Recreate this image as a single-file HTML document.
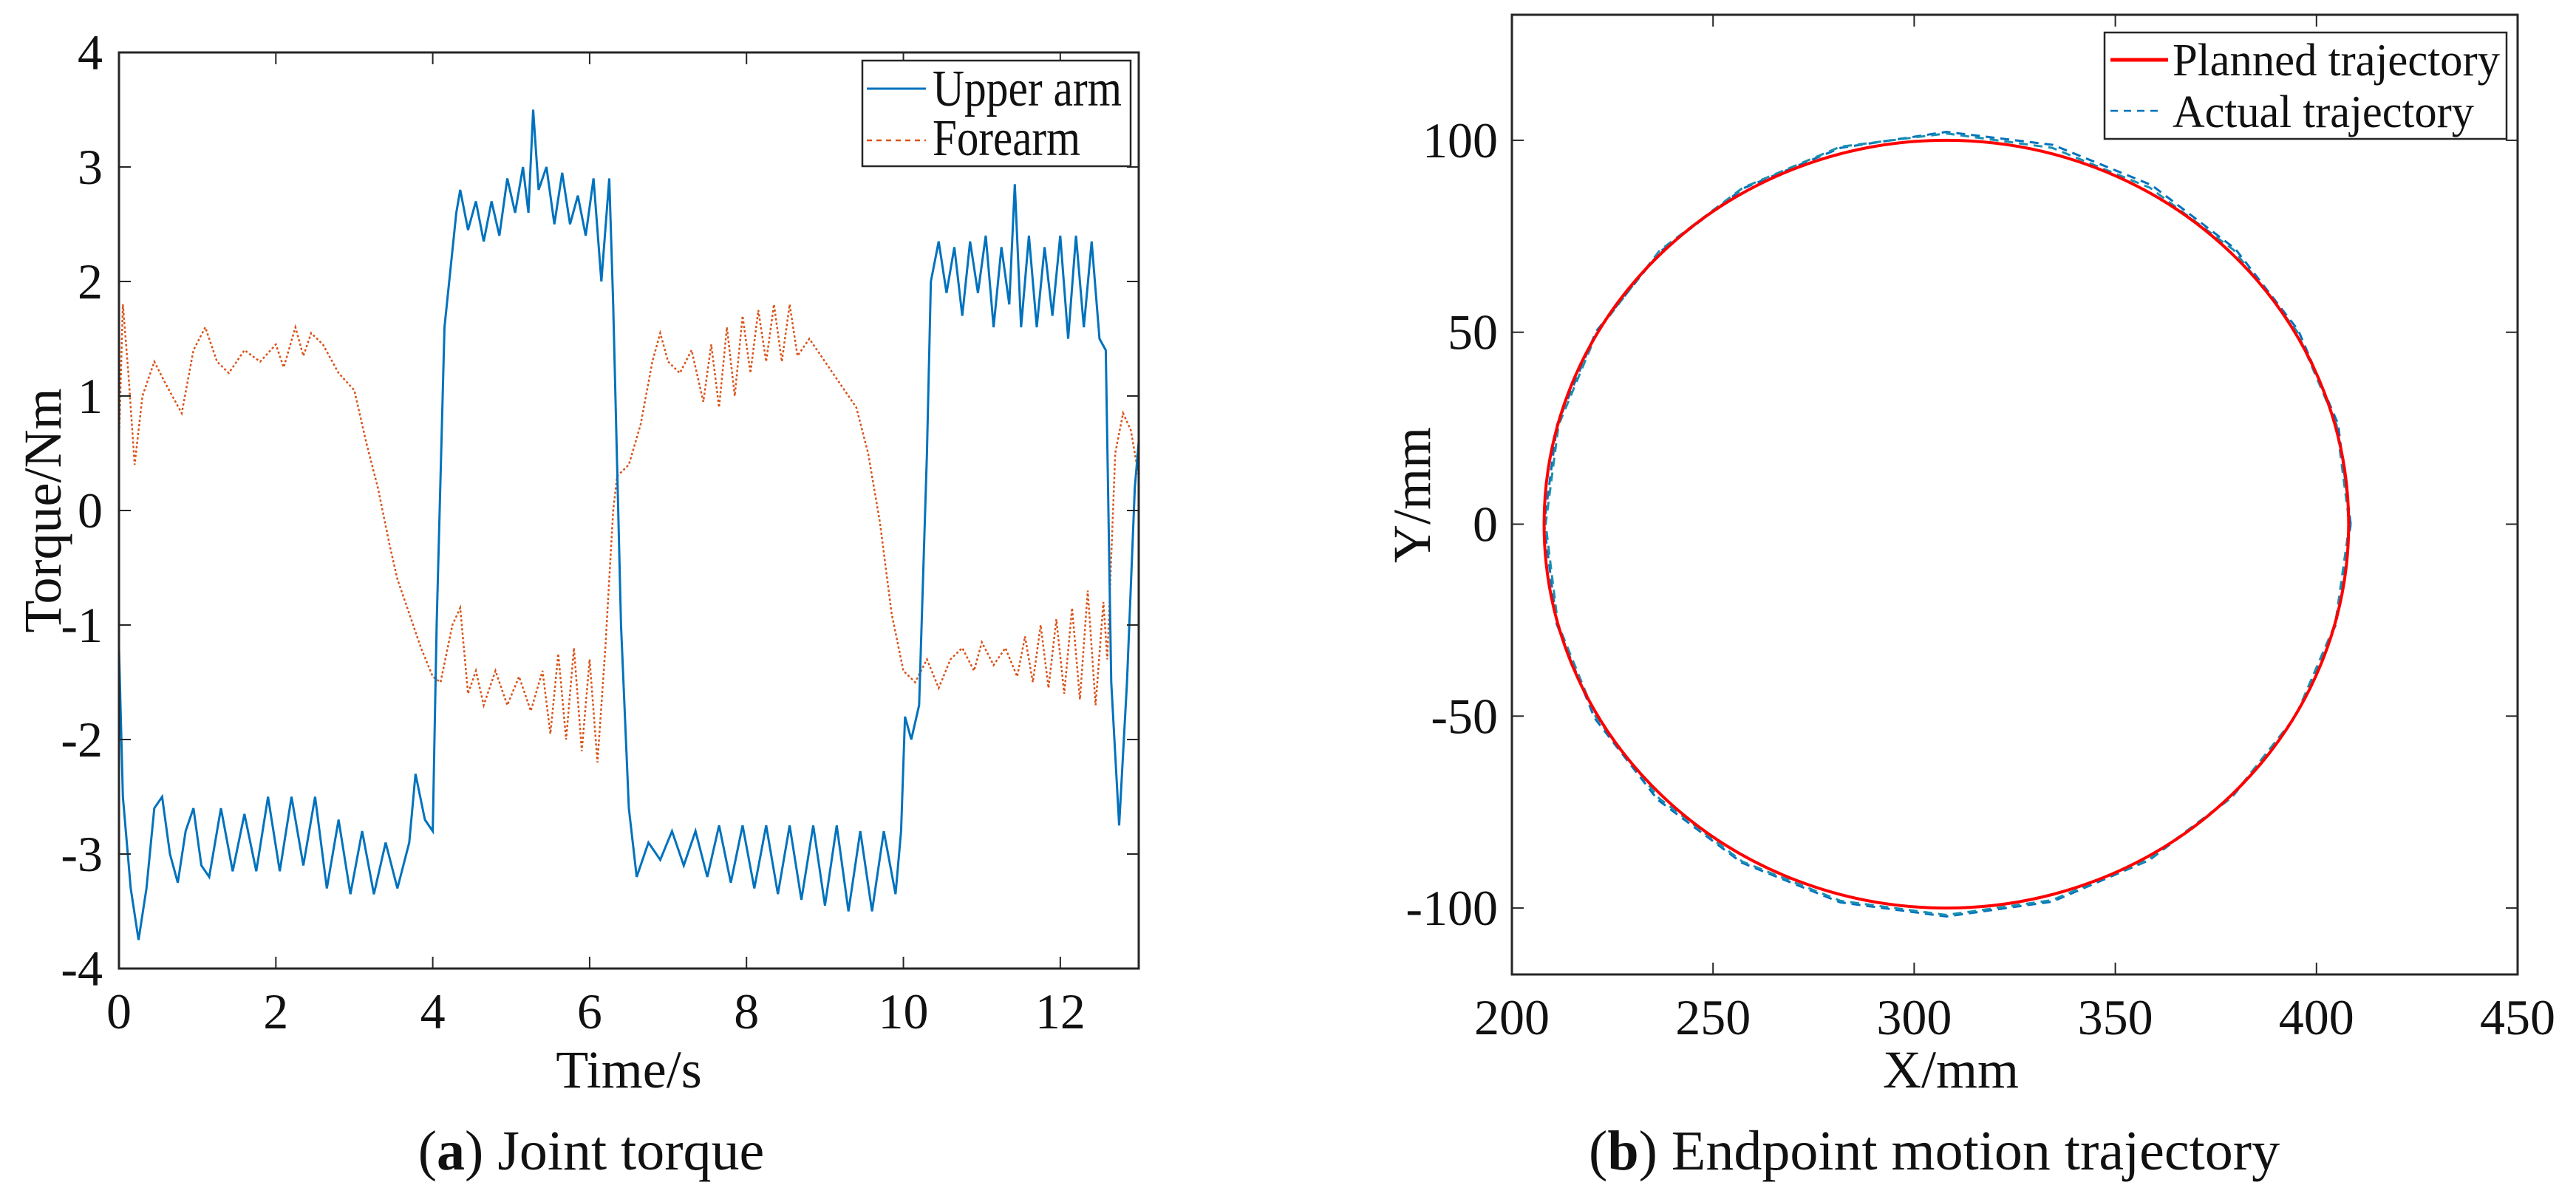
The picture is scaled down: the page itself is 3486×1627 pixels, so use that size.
<!DOCTYPE html>
<html><head><meta charset="utf-8">
<style>
html,body{margin:0;padding:0;background:#fff;}
svg{display:block;}
text{font-family:"Liberation Serif","Times New Roman",serif;fill:#111;}
</style></head>
<body>
<svg id="fig" width="3486" height="1627" viewBox="0 0 3486 1627" xmlns="http://www.w3.org/2000/svg">
<g id="left"></g>
<g id="right"></g>
<text x="800" y="1583" font-size="76" text-anchor="middle">(<tspan font-weight="bold">a</tspan>) Joint torque</text>
<text x="2150" y="1583" font-size="76">(<tspan font-weight="bold">b</tspan>) Endpoint motion trajectory</text>
</svg>
<script>
// ---- Chart (a) data ----
const upperT = [0,0.05,0.15,0.25,0.35,0.45,0.55,0.65,0.75,0.85,0.95,1.05,1.15,1.3,1.45,1.6,1.75,1.9,2.05,2.2,2.35,2.5,2.65,2.8,2.95,3.1,3.25,3.4,3.55,3.7,3.78,3.9,4.0,4.05,4.15,4.3,4.35,4.45,4.55,4.65,4.75,4.85,4.95,5.05,5.15,5.22,5.28,5.35,5.45,5.55,5.65,5.75,5.85,5.95,6.05,6.15,6.25,6.3,6.4,6.5,6.6,6.75,6.9,7.05,7.2,7.35,7.5,7.65,7.8,7.95,8.1,8.25,8.4,8.55,8.7,8.85,9.0,9.15,9.3,9.45,9.6,9.75,9.9,9.97,10.02,10.1,10.2,10.3,10.35,10.45,10.55,10.65,10.75,10.85,10.95,11.05,11.15,11.25,11.35,11.42,11.5,11.6,11.7,11.8,11.9,12.0,12.1,12.2,12.3,12.4,12.5,12.58,12.65,12.75,12.85,12.95,13];
const upperV = [-1.2,-2.5,-3.3,-3.75,-3.3,-2.6,-2.5,-3.0,-3.25,-2.8,-2.6,-3.1,-3.2,-2.6,-3.15,-2.65,-3.15,-2.5,-3.15,-2.5,-3.1,-2.5,-3.3,-2.7,-3.35,-2.8,-3.35,-2.9,-3.3,-2.9,-2.3,-2.7,-2.8,-1.0,1.6,2.6,2.8,2.45,2.7,2.35,2.7,2.4,2.9,2.6,3.0,2.6,3.5,2.8,3.0,2.5,2.95,2.5,2.75,2.4,2.9,2.0,2.9,1.8,-1.0,-2.6,-3.2,-2.9,-3.05,-2.8,-3.1,-2.8,-3.2,-2.75,-3.25,-2.75,-3.3,-2.75,-3.35,-2.75,-3.4,-2.75,-3.45,-2.75,-3.5,-2.8,-3.5,-2.8,-3.35,-2.8,-1.8,-2.0,-1.7,0.5,2.0,2.35,1.9,2.3,1.7,2.35,1.9,2.4,1.6,2.3,1.8,2.85,1.6,2.4,1.6,2.3,1.7,2.4,1.5,2.4,1.6,2.35,1.5,1.4,-1.5,-2.75,-1.5,0.2,0.6];
const foreT = [0,0.05,0.12,0.2,0.3,0.45,0.6,0.8,0.95,1.1,1.25,1.4,1.6,1.8,2.0,2.1,2.25,2.35,2.45,2.6,2.8,3.0,3.15,3.3,3.45,3.55,3.7,3.85,4.0,4.1,4.25,4.35,4.45,4.55,4.65,4.8,4.95,5.1,5.25,5.4,5.5,5.6,5.7,5.8,5.9,6.0,6.1,6.2,6.3,6.35,6.5,6.65,6.8,6.9,7.0,7.15,7.3,7.45,7.55,7.65,7.75,7.85,7.95,8.05,8.15,8.25,8.35,8.45,8.55,8.65,8.8,9.0,9.2,9.4,9.55,9.7,9.85,10.0,10.15,10.3,10.45,10.6,10.75,10.9,11.0,11.15,11.3,11.45,11.55,11.65,11.75,11.85,11.95,12.05,12.15,12.25,12.35,12.45,12.55,12.6,12.7,12.8,12.9,13];
const foreV = [0.6,1.8,1.2,0.4,1.0,1.3,1.1,0.85,1.4,1.6,1.3,1.2,1.4,1.3,1.45,1.25,1.6,1.35,1.55,1.45,1.2,1.05,0.6,0.2,-0.3,-0.6,-0.9,-1.2,-1.45,-1.5,-1.0,-0.85,-1.6,-1.4,-1.7,-1.4,-1.7,-1.45,-1.75,-1.4,-1.95,-1.25,-2.0,-1.2,-2.1,-1.3,-2.2,-1.2,0.0,0.3,0.4,0.75,1.3,1.55,1.3,1.2,1.4,0.95,1.45,0.9,1.6,1.0,1.7,1.2,1.75,1.3,1.8,1.3,1.8,1.35,1.5,1.3,1.1,0.9,0.5,-0.1,-0.9,-1.4,-1.5,-1.3,-1.55,-1.3,-1.2,-1.4,-1.15,-1.35,-1.2,-1.45,-1.1,-1.5,-1.0,-1.55,-0.95,-1.6,-0.85,-1.65,-0.7,-1.7,-0.8,-1.3,0.5,0.85,0.7,0.3];
const xTicksA = [0,2,4,6,8,10,12];
const yTicksA = [-4,-3,-2,-1,0,1,2,3,4];
// ---- Chart (b) data ----
const circleCenter = [308,0];
const plannedRadius = [100];
const actualAngles = [0,15,30,45,60,75,90,105,120,135,150,165,180,195,210,225,240,255,270,285,300,315,330,345,360];
const actualR1 = [100.5,100.8,101,101.5,102,102.3,102.2,101.5,101,100.5,100.5,100.2,100,100.3,101,101.5,101.8,102,102.2,101.8,101,100.5,100.2,100.3,100.5];
const actualR2 = [100.2,100.4,100.6,101,101.2,101.5,101.8,101.8,101.2,100.8,100.2,99.8,99.6,100,100.6,101,101.5,101.6,101.8,101.4,100.8,100.4,100.2,100.1,100.2];
const xTicksB = [200,250,300,350,400,450];
const yTicksB = [-100,-50,0,50,100];

const NS = "http://www.w3.org/2000/svg";
function mk(parent, tag, attrs, txt){
  const e = document.createElementNS(NS, tag);
  for (const k in attrs) e.setAttribute(k, attrs[k]);
  if (txt !== undefined) e.textContent = txt;
  parent.appendChild(e);
  return e;
}

// ===== Chart A =====
const A = {x0:161, x1:1541, y0:71, y1:1311, xmin:0, xmax:13, ymin:-4, ymax:4};
const ax = v => A.x0 + (v - A.xmin) / (A.xmax - A.xmin) * (A.x1 - A.x0);
const ay = v => A.y1 - (v - A.ymin) / (A.ymax - A.ymin) * (A.y1 - A.y0);
const gL = document.getElementById('left');

function seriesPath(ts, vs, fx, fy){
  let d = '';
  for (let i = 0; i < ts.length; i++) d += (i ? 'L' : 'M') + fx(ts[i]).toFixed(1) + ',' + fy(vs[i]).toFixed(1);
  return d;
}
let p = mk(gL, 'path', {d: seriesPath(foreT, foreV, ax, ay), fill:'none', stroke:'#D95319', 'stroke-width':2.5, 'stroke-dasharray':'3,3'});


p = mk(gL, 'path', {d: seriesPath(upperT, upperV, ax, ay), fill:'none', stroke:'#0072BD', 'stroke-width':3});



let box = mk(gL, 'rect', {x:A.x0, y:A.y0, width:A.x1-A.x0, height:A.y1-A.y0, fill:'none', stroke:'#262626', 'stroke-width':3});


xTicksA.forEach(v => {
  const x = ax(v);
  mk(gL, 'line', {x1:x, y1:A.y1, x2:x, y2:A.y1-16, stroke:'#262626', 'stroke-width':2});
  mk(gL, 'line', {x1:x, y1:A.y0, x2:x, y2:A.y0+16, stroke:'#262626', 'stroke-width':2});
  const t = mk(gL, 'text', {x:x, y:1392, 'font-size':68, 'text-anchor':'middle'}, String(v));
  
  
});
yTicksA.forEach(v => {
  const y = ay(v);
  mk(gL, 'line', {x1:A.x0, y1:y, x2:A.x0+16, y2:y, stroke:'#262626', 'stroke-width':2});
  mk(gL, 'line', {x1:A.x1, y1:y, x2:A.x1-16, y2:y, stroke:'#262626', 'stroke-width':2});
  const t = mk(gL, 'text', {x:139, y:y+23, 'font-size':68, 'text-anchor':'end'}, String(v));
  
  
});
let t = mk(gL, 'text', {x:851, y:1472, 'font-size':72, 'text-anchor':'middle'}, 'Time/s');


t = mk(gL, 'text', {x:0, y:0, 'font-size':72, 'text-anchor':'middle', transform:'translate(82,691) rotate(-90)'}, 'Torque/Nm');


// legend A
let lg = mk(gL, 'g', {});


mk(lg, 'rect', {x:1167, y:82, width:363, height:143, fill:'#fff', stroke:'#262626', 'stroke-width':2.5});
mk(lg, 'line', {x1:1173, y1:120, x2:1253, y2:120, stroke:'#0072BD', 'stroke-width':3});
mk(lg, 'line', {x1:1173, y1:190, x2:1253, y2:190, stroke:'#D95319', 'stroke-width':2.5, 'stroke-dasharray':'7,6'});
t = mk(lg, 'text', {x:1262, y:143, 'font-size':70, textLength:256, lengthAdjust:'spacingAndGlyphs'}, 'Upper arm');


t = mk(lg, 'text', {x:1262, y:210, 'font-size':70, textLength:200, lengthAdjust:'spacingAndGlyphs'}, 'Forearm');



// ===== Chart B =====
const B = {x0:2046, x1:3407, y0:20, y1:1319, xmin:200, xmax:450, ymin:-117.3, ymax:132.7};
const bx = v => B.x0 + (v - B.xmin) / (B.xmax - B.xmin) * (B.x1 - B.x0);
const by = v => B.y1 - (v - B.ymin) / (B.ymax - B.ymin) * (B.y1 - B.y0);
const gR = document.getElementById('right');

function loopPath(angles, radii){
  let d = '';
  for (let i = 0; i < angles.length; i++){
    const a = angles[i] * Math.PI / 180;
    const x = circleCenter[0] + radii[i] * Math.cos(a);
    const y = circleCenter[1] + radii[i] * Math.sin(a);
    d += (i ? 'L' : 'M') + bx(x).toFixed(1) + ',' + by(y).toFixed(1);
  }
  return d;
}
const cx = bx(circleCenter[0]), cy = by(circleCenter[1]);
const rx = bx(circleCenter[0] + plannedRadius[0]) - cx, ry = cy - by(circleCenter[1] + plannedRadius[0]);
p = mk(gR, 'path', {d: loopPath(actualAngles, actualR1), fill:'none', stroke:'#0072BD', 'stroke-width':3, 'stroke-dasharray':'12,8', 'stroke-linejoin':'round'});


p = mk(gR, 'path', {d: loopPath(actualAngles, actualR2), fill:'none', stroke:'#1a8fb0', 'stroke-width':3, 'stroke-dasharray':'12,8', 'stroke-dashoffset':10});


p = mk(gR, 'ellipse', {cx:cx, cy:cy, rx:rx, ry:ry, fill:'none', stroke:'#FF0000', 'stroke-width':4});



box = mk(gR, 'rect', {x:B.x0, y:B.y0, width:B.x1-B.x0, height:B.y1-B.y0, fill:'none', stroke:'#262626', 'stroke-width':3});


xTicksB.forEach(v => {
  const x = bx(v);
  mk(gR, 'line', {x1:x, y1:B.y1, x2:x, y2:B.y1-16, stroke:'#262626', 'stroke-width':2});
  mk(gR, 'line', {x1:x, y1:B.y0, x2:x, y2:B.y0+16, stroke:'#262626', 'stroke-width':2});
  const tt = mk(gR, 'text', {x:x, y:1400, 'font-size':68, 'text-anchor':'middle'}, String(v));
  
  
});
yTicksB.forEach(v => {
  const y = by(v);
  mk(gR, 'line', {x1:B.x0, y1:y, x2:B.x0+16, y2:y, stroke:'#262626', 'stroke-width':2});
  mk(gR, 'line', {x1:B.x1, y1:y, x2:B.x1-16, y2:y, stroke:'#262626', 'stroke-width':2});
  const tt = mk(gR, 'text', {x:2027, y:y+23, 'font-size':68, 'text-anchor':'end'}, String(v));
  
  
});
t = mk(gR, 'text', {x:2640, y:1472, 'font-size':72, 'text-anchor':'middle'}, 'X/mm');


t = mk(gR, 'text', {x:0, y:0, 'font-size':72, 'text-anchor':'middle', transform:'translate(1935,670) rotate(-90)'}, 'Y/mm');


lg = mk(gR, 'g', {});


mk(lg, 'rect', {x:2848, y:44, width:544, height:144, fill:'#fff', stroke:'#262626', 'stroke-width':2.5});
mk(lg, 'line', {x1:2856, y1:81, x2:2934, y2:81, stroke:'#FF0000', 'stroke-width':5});
mk(lg, 'line', {x1:2856, y1:150, x2:2928, y2:150, stroke:'#0072BD', 'stroke-width':2.5, 'stroke-dasharray':'10,8'});
t = mk(lg, 'text', {x:2940, y:102, 'font-size':62, textLength:443, lengthAdjust:'spacingAndGlyphs'}, 'Planned trajectory');


t = mk(lg, 'text', {x:2940, y:172, 'font-size':62, textLength:408, lengthAdjust:'spacingAndGlyphs'}, 'Actual trajectory');


</script>
</body></html>
